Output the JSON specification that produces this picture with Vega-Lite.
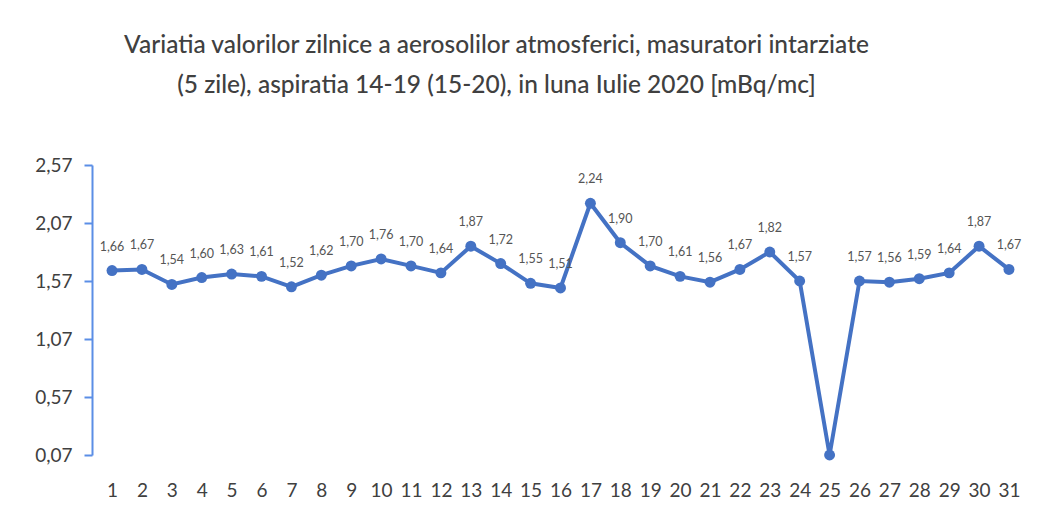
{
  "$schema": "https://vega.github.io/schema/vega-lite/v6.json",
  "autosize": "none",
  "width": 937,
  "height": 290,
  "padding": {"left": 92, "top": 165, "right": 13, "bottom": 57},
  "background": "white",
  "config": {
    "locale": {"number": {"decimal": ",", "thousands": ".", "grouping": [3], "currency": ["", " €"]}},
    "view": {"stroke": null},
    "font": "Lato"
  },
  "title": {
    "text": ["Variatia valorilor zilnice a aerosolilor atmosferici, masuratori intarziate", "(5 zile), aspiratia 14-19 (15-20),  in luna Iulie 2020 [mBq/mc]"],
    "anchor": "middle",
    "frame": "group",
    "dx": -64,
    "offset": 58,
    "fontSize": 24.5,
    "fontWeight": 500,
    "color": "#404040",
    "lineHeight": 40,
    "font": "Lato"
  },
  "data": {
    "values": [
      {"day": 1, "value": 1.66},
      {"day": 2, "value": 1.67},
      {"day": 3, "value": 1.54},
      {"day": 4, "value": 1.60},
      {"day": 5, "value": 1.63},
      {"day": 6, "value": 1.61},
      {"day": 7, "value": 1.52},
      {"day": 8, "value": 1.62},
      {"day": 9, "value": 1.70},
      {"day": 10, "value": 1.76},
      {"day": 11, "value": 1.70},
      {"day": 12, "value": 1.64},
      {"day": 13, "value": 1.87},
      {"day": 14, "value": 1.72},
      {"day": 15, "value": 1.55},
      {"day": 16, "value": 1.51},
      {"day": 17, "value": 2.24},
      {"day": 18, "value": 1.90},
      {"day": 19, "value": 1.70},
      {"day": 20, "value": 1.61},
      {"day": 21, "value": 1.56},
      {"day": 22, "value": 1.67},
      {"day": 23, "value": 1.82},
      {"day": 24, "value": 1.57},
      {"day": 25, "value": 0.07},
      {"day": 26, "value": 1.57},
      {"day": 27, "value": 1.56},
      {"day": 28, "value": 1.59},
      {"day": 29, "value": 1.64},
      {"day": 30, "value": 1.87},
      {"day": 31, "value": 1.67}
    ]
  },
  "encoding": {
    "x": {
      "field": "day", "type": "ordinal",
      "scale": {"type": "point", "padding": 0.67},
      "axis": {"title": null, "labelAngle": 0, "domain": false, "ticks": false, "labelPadding": 26, "labelFontSize": 19, "labelColor": "#404040", "labelFont": "Lato"}
    },
    "y": {
      "field": "value", "type": "quantitative",
      "scale": {"domain": [0.07, 2.57], "nice": false, "zero": false},
      "axis": {"title": null, "values": [0.07, 0.57, 1.07, 1.57, 2.07, 2.57], "format": ".2f", "grid": false, "domainColor": "#5b8ee6", "domainWidth": 2, "tickColor": "#5b8ee6", "tickWidth": 2, "tickSize": 8, "labelPadding": 12, "labelFontSize": 19, "labelColor": "#404040", "labelFont": "Lato"}
    }
  },
  "layer": [
    {"mark": {"type": "line", "color": "#4472c4", "strokeWidth": 4}},
    {"mark": {"type": "point", "filled": true, "color": "#4472c4", "size": 120, "opacity": 1}},
    {
      "transform": [{"filter": "datum.day != 25"}],
      "mark": {"type": "text", "dy": -24, "fontSize": 12.5, "color": "#555555", "font": "Lato"},
      "encoding": {"text": {"field": "value", "type": "quantitative", "format": ".2f"}}
    }
  ]
}
